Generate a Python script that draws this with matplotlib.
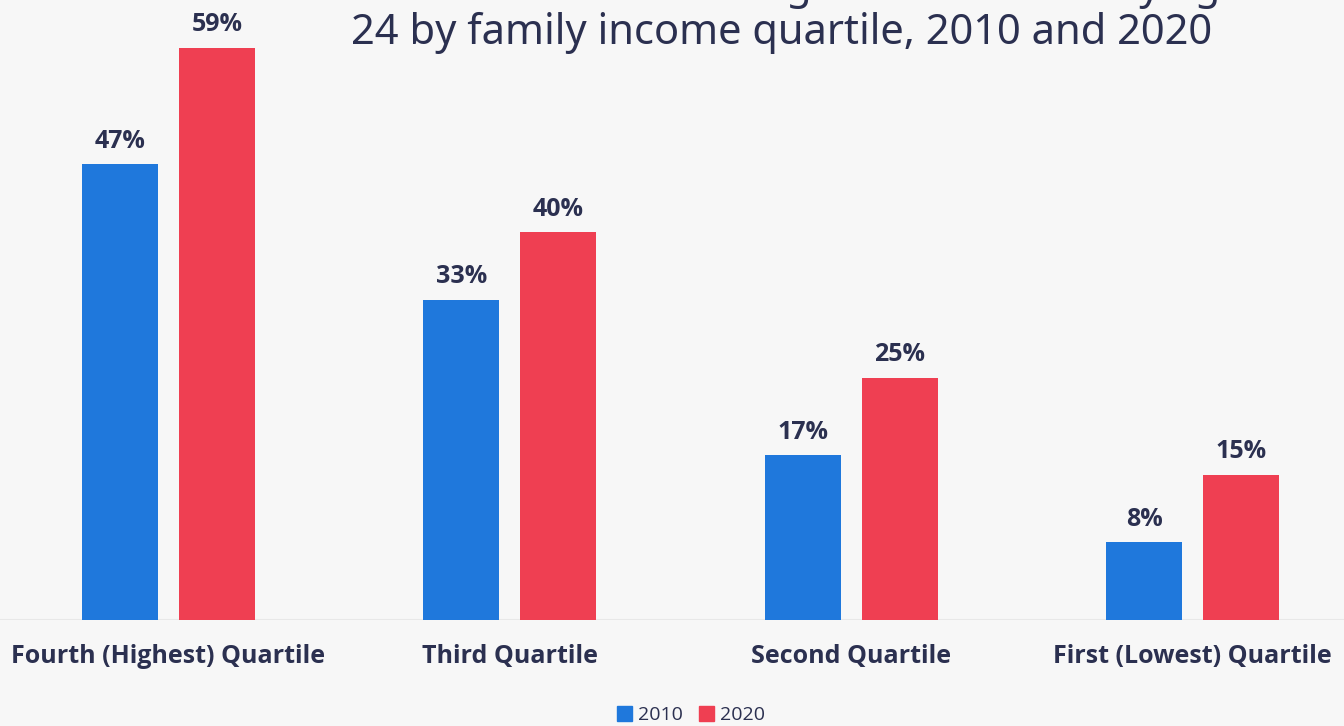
import matplotlib
matplotlib.use("Agg")
import matplotlib.pyplot as plt
from matplotlib.patches import Patch

categories = ["Fourth (Highest) Quartile", "Third Quartile", "Second Quartile", "First (Lowest) Quartile"]
years = ["2010", "2020"]
values_2010 = [47, 33, 17, 8]
values_2020 = [59, 40, 25, 15]

title = "Estimated bachelor's degree attainment by age\n24 by family income quartile, 2010 and 2020"

BG = "#f7f7f7"
BLUE = "#1f78dc"
RED = "#ef3f52"
TEXT = "#2b3050"

plt.rcParams['font.family'] = ['Open Sans', 'DejaVu Sans']

fig = plt.figure(figsize=(13.44, 7.26), dpi=100, facecolor=BG)
# baseline at y=620px, 60% at 38px
ax = fig.add_axes([0, (726 - 620) / 726, 1, 582 / 726])
ax.set_facecolor(BG)

x = list(range(len(categories)))
w = 0.2227
off = 0.1418
b1 = ax.bar([i - off for i in x], values_2010, width=w, color=BLUE, zorder=2)
b2 = ax.bar([i + off for i in x], values_2020, width=w, color=RED, zorder=2)

for bars, vals in [(b1, values_2010), (b2, values_2020)]:
    for rect, v in zip(bars, vals):
        ax.annotate(f"{v}%", (rect.get_x() + rect.get_width() / 2, v),
                    xytext=(0, 7.5), textcoords="offset points",
                    ha="center", va="bottom", fontsize=18, fontweight="bold",
                    color=TEXT, annotation_clip=False)

ax.set_xlim((0 - 168.5) / 341.33, (1344 - 168.5) / 341.33)
ax.set_ylim(0, 60)
ax.axhline(0, color="#e8e8e8", lw=1.5, zorder=1)
for s in ax.spines.values():
    s.set_visible(False)
ax.set_yticks([])
ax.set_xticks(x)
ax.set_xticklabels(categories, fontsize=18, fontweight="bold", color=TEXT)
ax.tick_params(axis="x", length=0, pad=17)

fig.text(782 / 1344, 1 - 54 / 726, title, ha="center", va="bottom",
         fontsize=30, fontweight="light", color=TEXT, linespacing=1.1,
         family=['Noto Sans', 'DejaVu Sans'])

handles = [Patch(color=BLUE, label=years[0]), Patch(color=RED, label=years[1])]
fig.legend(handles=handles, loc="center", bbox_to_anchor=(691 / 1344, 1 - 715 / 726),
           ncol=2, frameon=False, fontsize=14, handlelength=0.8, handleheight=0.8,
           handletextpad=0.3, columnspacing=0.8, labelcolor=TEXT)

fig.savefig("out.png", dpi=100, facecolor=BG)
